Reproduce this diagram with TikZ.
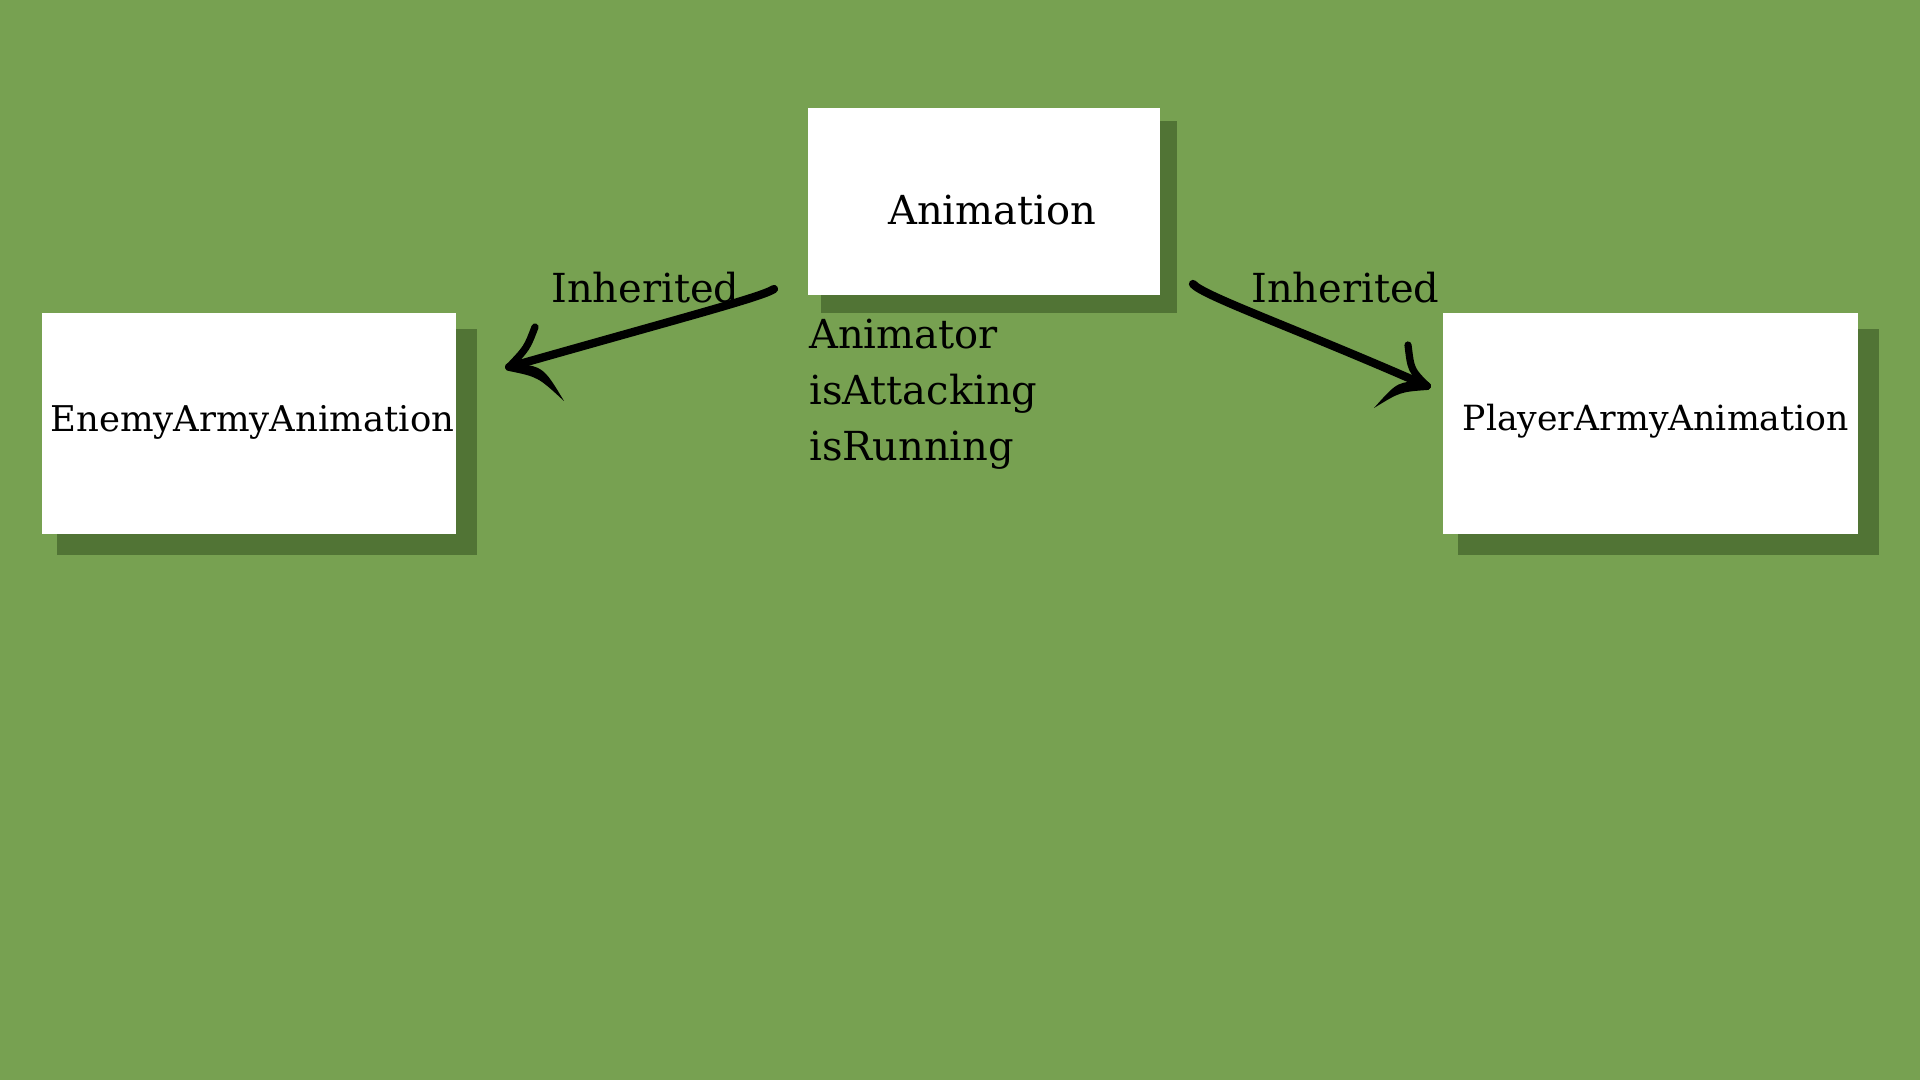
\documentclass[tikz,border=0pt]{standalone}
\usepackage{fontspec}
\setmainfont{DejaVu Serif}
\usetikzlibrary{calc}
\definecolor{bg}{HTML}{77A151}
\definecolor{shade}{HTML}{517435}
\begin{document}
\begin{tikzpicture}[x=0.75pt,y=-0.75pt,
  box/.style={fill=white,inner sep=0pt,anchor=north west},
  shadow/.style={fill=shade},
  brush/.style={line width=6.2pt,line cap=round,line join=round,draw=black},
  barb/.style={line width=5.4pt,line cap=round,draw=black},
  taper/.style={fill=black},
  lbl/.style={font=\fontsize{30pt}{36pt}\selectfont,anchor=base west,inner sep=0pt}]
\fill[bg] (0,0) rectangle (1920,1080);
\useasboundingbox (0,0) rectangle (1920,1080);
% shadows
\fill[shadow] (821,121) rectangle (1177,313);
\fill[shadow] (57,329) rectangle (477,555);
\fill[shadow] (1458,329) rectangle (1879,555);
% boxes
\node[box,minimum width=264pt,minimum height=140.25pt,text height=33.75pt,text depth=0pt,
      font=\fontsize{30pt}{36pt}\selectfont] (anim) at (808,108) {\hspace*{12pt}Animation};
\node[box,minimum width=310.5pt,minimum height=165.75pt,text height=11.25pt,text depth=0pt,
      font=\fontsize{26.6pt}{32pt}\selectfont] (enemy) at (42,313) {\hspace*{4.5pt}EnemyArmyAnimation};
\node[box,minimum width=311.25pt,minimum height=165.75pt,text height=9.75pt,text depth=0pt,
      font=\fontsize{26pt}{32pt}\selectfont] (player) at (1443,313) {\hspace*{7.5pt}PlayerArmyAnimation};
% labels
\node[lbl] (inhl) at (551,303) {Inherited};
\node[lbl] (inhr) at (1251,303) {Inherited};
\node[lbl] (f1) at (809,349) {Animator};
\node[lbl] (f2) at (809,405) {isAttacking};
\node[lbl] (f3) at (809,460) {isRunning};
% arrow coordinates
\coordinate (ls) at (774,289);
\coordinate (lt) at (509,367);
\coordinate (lu) at (535,327);
\coordinate (rs) at (1193,284);
\coordinate (rt) at (1427,386);
\coordinate (ru) at (1408,345);
% left arrow
\draw[brush] (ls) .. controls (762,297) and (685,317) .. (lt);
\draw[barb] (lu) .. controls (527,348) .. (lt);
\fill[taper] ($(lt)+(0,-4)$) .. controls (543,366) .. (564,401)
   .. controls (538,377) .. ($(lt)+(0,4)$) -- cycle;
% right arrow
\draw[brush] (rs) .. controls (1203,296) and (1300,330) .. (rt);
\draw[barb] (ru) .. controls (1411,370) .. (rt);
\fill[taper] ($(rt)+(0,-4)$) .. controls (1398,381) .. (1374,408)
   .. controls (1400,392) .. ($(rt)+(0,4)$) -- cycle;
\end{tikzpicture}
\end{document}
